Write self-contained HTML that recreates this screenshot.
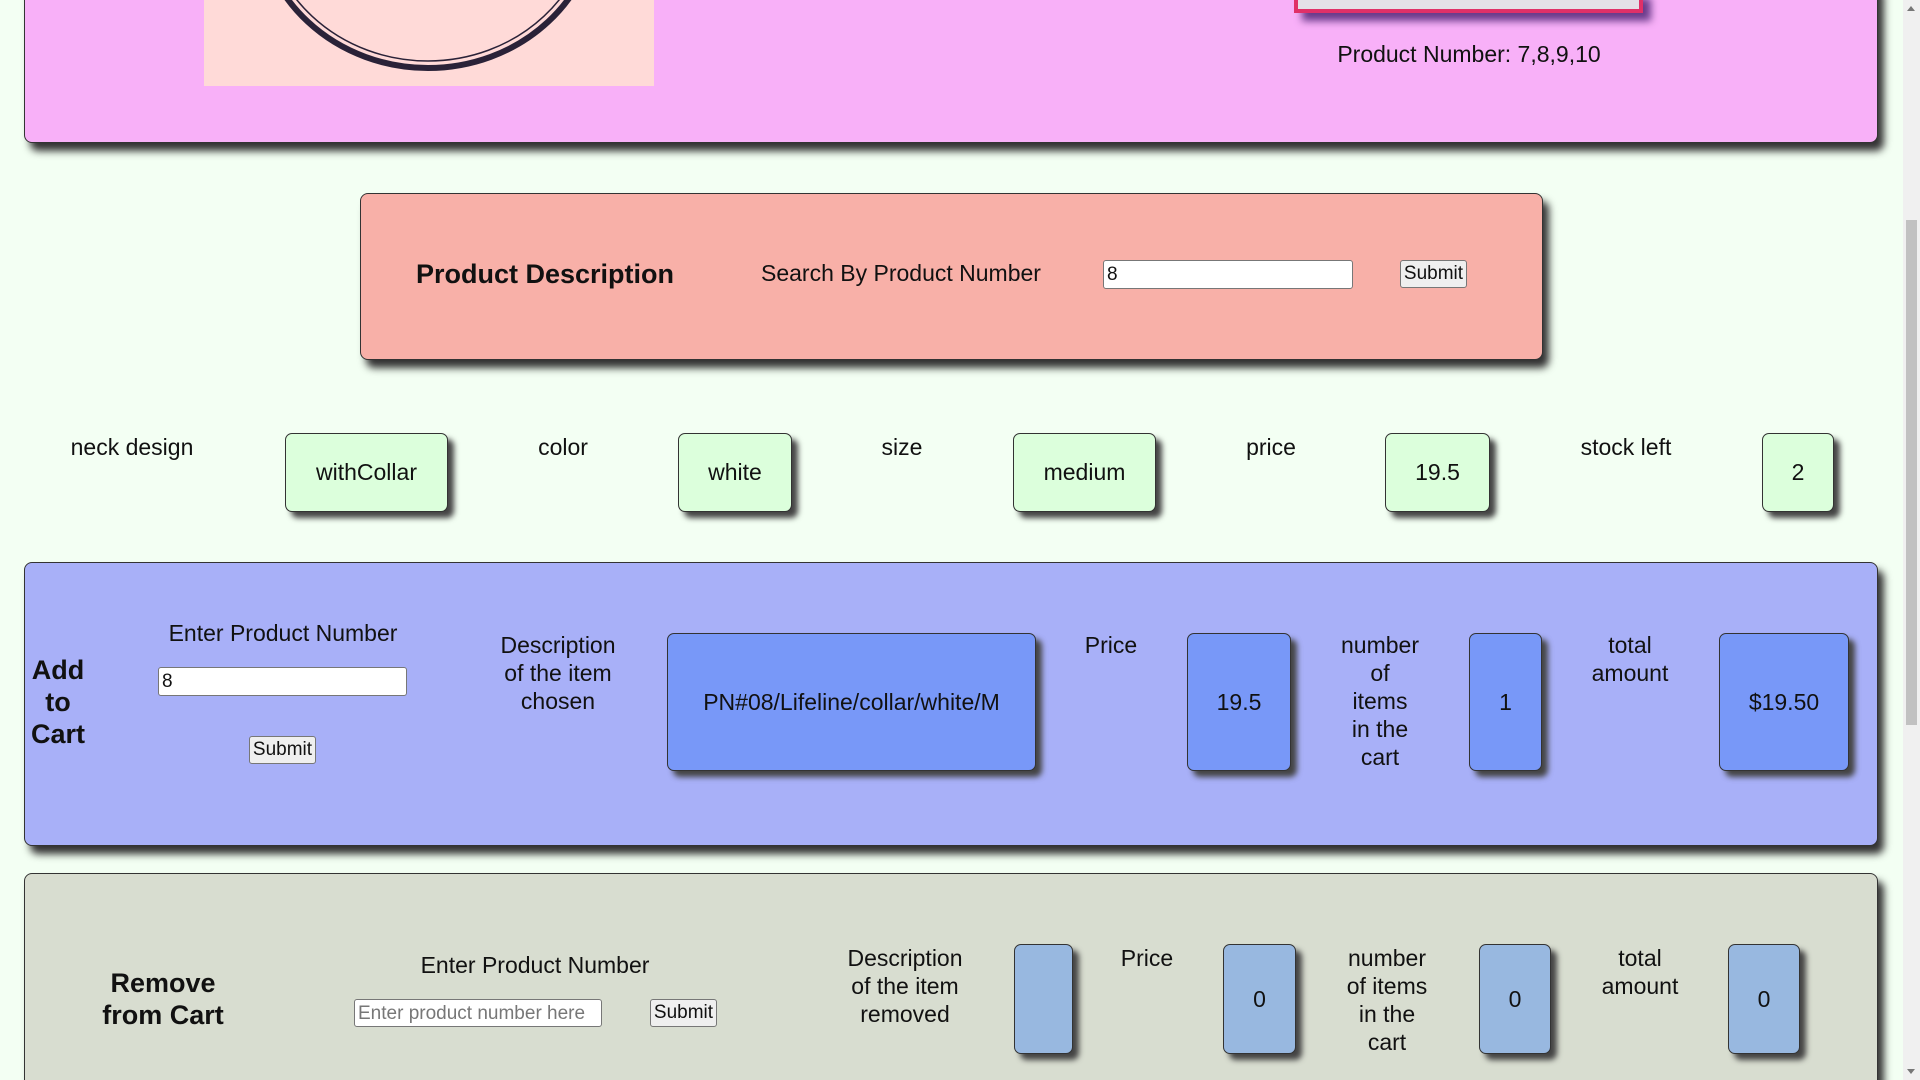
<!DOCTYPE html>
<html><head><meta charset="utf-8"><style>
*{box-sizing:border-box;margin:0;padding:0}
html,body{width:1920px;height:1080px;overflow:hidden}
body{background:#f3fff3;font-family:"Liberation Sans",sans-serif;color:#111;position:relative}
.a{position:absolute}
.panel{position:absolute;border:1px solid #333;border-radius:8px;box-shadow:6px 8px 8px #333}
.t{position:absolute;font-size:23px;text-align:center;line-height:28px;white-space:nowrap}
.b{position:absolute;border:1px solid #333;border-radius:7px;box-shadow:6px 6px 6px #444;display:flex;align-items:center;justify-content:center;font-size:23px}
.g{background:#dcffdc}
.p{background:#7898f8}
.s{background:#98b8e0}
.in{position:absolute;background:#fff;border:1px solid #777;border-radius:3px;font-size:19px;padding-left:3px;line-height:27px;color:#111}
.btn{position:absolute;background:#efefef;border:1px solid #777;border-radius:3px;font-size:19px;text-align:center;line-height:26px}
.bold{font-weight:bold;font-size:27px;line-height:32px}
</style></head><body>
<div class="panel" style="left:24px;top:-20px;width:1854px;height:163px;background:#f8b0f8"></div>
<div class="a" style="left:204px;top:0;width:450px;height:86px;background:#ffdad8;overflow:hidden">
<svg width="450" height="86"><ellipse cx="224" cy="-90" rx="170" ry="158" fill="none" stroke="#2a2238" stroke-width="6"/><ellipse cx="224" cy="-92" rx="164" ry="153" fill="none" stroke="#2a2238" stroke-width="1.5"/></svg></div>
<div class="a" style="left:1294px;top:-10px;width:349px;height:23px;background:#e4e0e8;border:4px solid #e03068;box-shadow:8px 8px 8px #6a3a8a"></div>
<div class="t" style="left:1323px;top:40px;width:292px;font-size:23px">Product Number: 7,8,9,10</div>

<div class="panel" style="left:360px;top:193px;width:1183px;height:167px;background:#f8b0a8"></div>
<div class="t bold" style="left:416px;top:258px">Product Description</div>
<div class="t" style="left:761px;top:259px">Search By Product Number</div>
<div class="in" style="left:1103px;top:260px;width:250px;height:29px">8</div>
<div class="btn" style="left:1400px;top:260px;width:67px;height:28px">Submit</div>

<div class="t" style="left:52px;top:433px;width:160px">neck design</div>
<div class="t" style="left:503px;top:433px;width:120px">color</div>
<div class="t" style="left:842px;top:433px;width:120px">size</div>
<div class="t" style="left:1211px;top:433px;width:120px">price</div>
<div class="t" style="left:1546px;top:433px;width:160px">stock left</div>
<div class="b g" style="left:285px;top:433px;width:163px;height:79px">withCollar</div>
<div class="b g" style="left:678px;top:433px;width:114px;height:79px">white</div>
<div class="b g" style="left:1013px;top:433px;width:143px;height:79px">medium</div>
<div class="b g" style="left:1385px;top:433px;width:105px;height:79px">19.5</div>
<div class="b g" style="left:1762px;top:433px;width:72px;height:79px">2</div>

<div class="panel" style="left:24px;top:562px;width:1854px;height:284px;background:#a8b0f8"></div>
<div class="t bold" style="left:18px;top:654px;width:80px">Add<br>to<br>Cart</div>
<div class="t" style="left:143px;top:619px;width:280px">Enter Product Number</div>
<div class="in" style="left:158px;top:667px;width:249px;height:29px">8</div>
<div class="btn" style="left:249px;top:736px;width:67px;height:28px">Submit</div>
<div class="t" style="left:478px;top:631px;width:160px">Description<br>of the item<br>chosen</div>
<div class="b p" style="left:667px;top:633px;width:369px;height:138px">PN#08/Lifeline/collar/white/M</div>
<div class="t" style="left:1061px;top:631px;width:100px">Price</div>
<div class="b p" style="left:1187px;top:633px;width:104px;height:138px">19.5</div>
<div class="t" style="left:1320px;top:631px;width:120px">number<br>of<br>items<br>in the<br>cart</div>
<div class="b p" style="left:1469px;top:633px;width:73px;height:138px">1</div>
<div class="t" style="left:1570px;top:631px;width:120px">total<br>amount</div>
<div class="b p" style="left:1719px;top:633px;width:130px;height:138px">$19.50</div>

<div class="panel" style="left:24px;top:873px;width:1854px;height:217px;background:#d8ddd0"></div>
<div class="t bold" style="left:83px;top:967px;width:160px">Remove<br>from Cart</div>
<div class="t" style="left:395px;top:951px;width:280px">Enter Product Number</div>
<div class="in" style="left:354px;top:999px;width:248px;height:28px;color:#777">Enter product number here</div>
<div class="btn" style="left:650px;top:999px;width:67px;height:28px">Submit</div>
<div class="t" style="left:825px;top:944px;width:160px">Description<br>of the item<br>removed</div>
<div class="b s" style="left:1014px;top:944px;width:59px;height:110px"></div>
<div class="t" style="left:1097px;top:944px;width:100px">Price</div>
<div class="b s" style="left:1223px;top:944px;width:73px;height:110px">0</div>
<div class="t" style="left:1327px;top:944px;width:120px">number<br>of items<br>in the<br>cart</div>
<div class="b s" style="left:1479px;top:944px;width:72px;height:110px">0</div>
<div class="t" style="left:1580px;top:944px;width:120px">total<br>amount</div>
<div class="b s" style="left:1728px;top:944px;width:72px;height:110px">0</div>

<div class="a" style="left:1903px;top:0;width:17px;height:1080px;background:#f0f0f0"></div>
<div class="a" style="left:1906px;top:220px;width:11px;height:505px;background:#c1c1c1"></div>
<div class="a" style="left:1907px;top:6px;width:0;height:0;border-left:4px solid transparent;border-right:4px solid transparent;border-bottom:5px solid #777"></div>
<div class="a" style="left:1907px;top:1069px;width:0;height:0;border-left:4px solid transparent;border-right:4px solid transparent;border-top:5px solid #777"></div>
</body></html>
